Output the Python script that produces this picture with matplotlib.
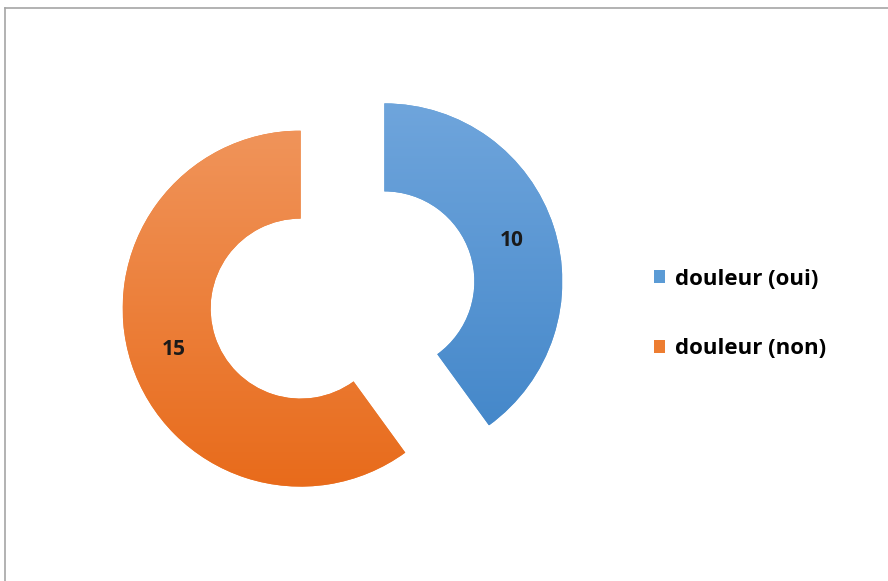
import matplotlib
matplotlib.use("Agg")
import matplotlib.pyplot as plt
from matplotlib.colors import LinearSegmentedColormap
from matplotlib.patches import Patch
from matplotlib.lines import Line2D
import numpy as np

plt.rcParams['font.family'] = ['Open Sans', 'DejaVu Sans']

labels = ["douleur (oui)", "douleur (non)"]
counts = [10, 15]

legend_colors = ["#5B9BD5", "#ED7D31"]
# (bottom, top) shades for the vertical fill of each slice
gradients = [("#4588CA", "#6FA5DC"), ("#E86B1B", "#F0945A")]

W, H = 888, 581
fig = plt.figure(figsize=(W / 100, H / 100), dpi=100)
ax = fig.add_axes([0, 0, 1, 1])

total = sum(counts)
wedges, texts, autotexts = ax.pie(
    counts,
    colors=legend_colors,
    startangle=90,
    counterclock=False,
    radius=178,
    center=(342.5, 286),
    explode=[44, 44],
    wedgeprops=dict(width=88, linewidth=0),
    autopct=lambda p: f"{p * total / 100:.0f}",
    pctdistance=0.75,
    textprops=dict(fontsize=15, fontweight="bold", color="#1a1a1a"),
)

grad = np.linspace(0, 1, 256).reshape(-1, 1)
for w, (c_bot, c_top) in zip(wedges, gradients):
    x0, y0, x1, y1 = w.get_path().get_extents(w.get_patch_transform()).extents
    cmap = LinearSegmentedColormap.from_list("g", [c_bot, c_top])
    im = ax.imshow(grad, extent=[x0, x1, y0, y1], origin="lower",
                   cmap=cmap, aspect="auto", zorder=w.get_zorder() + 0.1)
    im.set_clip_path(w)

for t in autotexts:
    t.set_zorder(5)

ax.set_xlim(0, W)
ax.set_ylim(0, H)
ax.set_aspect("equal")
ax.axis("off")

handles = [Patch(facecolor=c, edgecolor="none") for c in legend_colors]
ax.legend(
    handles, labels,
    loc="center left",
    bbox_to_anchor=(654, H - 314),
    bbox_transform=ax.transData,
    frameon=False,
    prop=dict(weight="bold", size=16),
    handlelength=0.5,
    handleheight=0.5,
    handletextpad=0.45,
    labelspacing=2.2,
    borderpad=0,
    borderaxespad=0,
)

# thin grey frame along top and left edges
fig.add_artist(Line2D([5, W], [H - 8, H - 8], transform=None,
                      color="#A6A6A6", lw=1.2))
fig.add_artist(Line2D([5, 5], [0, H - 8], transform=None,
                      color="#A6A6A6", lw=1.2))

fig.savefig("out.png", dpi=100)
